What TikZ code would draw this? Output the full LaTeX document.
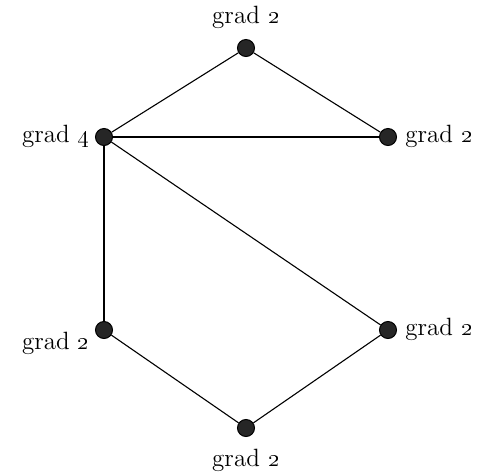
\documentclass[tikz,border=0pt]{standalone}
\begin{document}
\begin{tikzpicture}[x=0.5pt,y=-0.5pt,
  vtx/.style={circle,draw=black,fill=black!85,line width=0.5pt,inner sep=0pt,minimum size=8.5pt},
  lbl/.style={font=\fontsize{12.5}{15}\selectfont,inner sep=0pt},
  edge/.style={draw=black,line width=0.55pt}]
\useasboundingbox (0,0) rectangle (479,473);
\node[vtx] (t) at (246,48) {};
\node[vtx] (l) at (104,137) {};
\node[vtx] (r) at (388,137) {};
\node[vtx] (bl) at (104,330) {};
\node[vtx] (br) at (388,330) {};
\node[vtx] (b) at (246,428) {};
\draw[edge] (t) -- (l);
\draw[edge] (t) -- (r);
\draw[edge] (l) -- (r);
\draw[edge] (l) -- (bl);
\draw[edge] (l) -- (br);
\draw[edge] (bl) -- (b);
\draw[edge] (b) -- (br);
\node[lbl] (tl) at (246,17) {grad \oldstylenums{2}};
\node[lbl,anchor=east] (ll) at (90,136) {grad \oldstylenums{4}};
\node[lbl,anchor=west] (rl) at (405,136) {grad \oldstylenums{2}};
\node[lbl,anchor=east] (bll) at (90,343) {grad \oldstylenums{2}};
\node[lbl,anchor=west] (brl) at (405,329) {grad \oldstylenums{2}};
\node[lbl] (bbl) at (246,460) {grad \oldstylenums{2}};
\end{tikzpicture}
\end{document}
